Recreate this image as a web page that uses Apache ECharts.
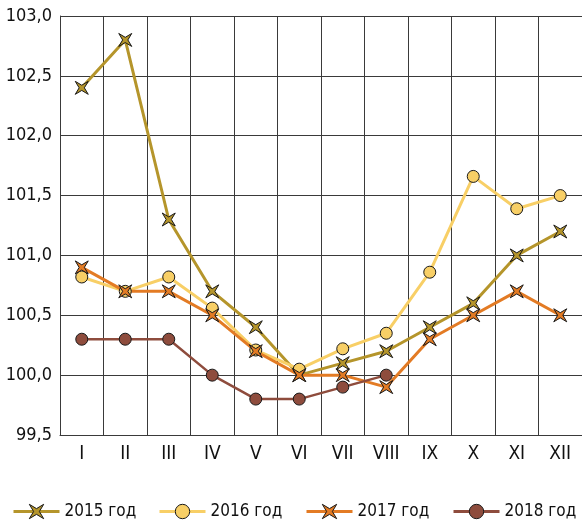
<!DOCTYPE html>
<html><head><meta charset="utf-8">
<script src="https://cdn.jsdelivr.net/npm/echarts@6/dist/echarts.min.js"></script>
<style>html,body{margin:0;padding:0;background:#fff}#c{width:582px;height:526px}</style>
</head><body><div id="c"></div>
<script>
var categories = ['I','II','III','IV','V','VI','VII','VIII','IX','X','XI','XII'];
var yTicks = [99.5, 100.0, 100.5, 101.0, 101.5, 102.0, 102.5, 103.0];
var seriesNames = ['2015 год','2016 год','2017 год','2018 год'];
var s2015 = [102.4, 102.8, 101.3, 100.7, 100.4, 100.0, 100.1, 100.2, 100.4, 100.6, 101.0, 101.2];
var s2016 = [100.82, 100.7, 100.82, 100.56, 100.21, 100.05, 100.22, 100.35, 100.86, 101.66, 101.39, 101.5];
var s2017 = [100.9, 100.7, 100.7, 100.5, 100.2, 100.0, 100.0, 99.9, 100.3, 100.5, 100.7, 100.5];
var s2018 = [100.3, 100.3, 100.3, 100.0, 99.8, 99.8, 99.9, 100.0, null, null, null, null];

var FONT = "'DejaVu Sans Condensed','Liberation Sans Narrow',sans-serif";
var star = 'path://M-10,-10 L0,-4 L10,-10 L4,0 L10,10 L0,4 L-10,10 L-4,0 Z';
var gridColor = '#3a3a3a';
var colors = ['#b5952b', '#f8cf66', '#e37b24', '#8e4c3d'];
var symbols = [star, 'circle', star, 'circle'];

function mk(i, data, size, width) {
  return {
    name: seriesNames[i], type: 'line', data: data, symbol: symbols[i], symbolSize: size,
    showAllSymbol: true, connectNulls: false,
    lineStyle: { color: colors[i], width: width },
    itemStyle: { color: colors[i], borderColor: '#1a1a1a', borderWidth: 1 },
    emphasis: { disabled: true }
  };
}
var legendLefts = [12, 158, 305, 452];
var legends = seriesNames.map(function (n, i) {
  return {
    top: 503, left: legendLefts[i], itemWidth: 46, itemHeight: 18, padding: 0,
    textStyle: { fontFamily: FONT, fontSize: 17, color: '#111' },
    itemStyle: { color: colors[i], borderColor: '#1a1a1a', borderWidth: 1 },
    lineStyle: { color: colors[i], width: 3 },
    data: [n]
  };
});

var chart = echarts.init(document.getElementById('c'), null, { renderer: 'canvas' });
chart.setOption({
  animation: false,
  backgroundColor: '#fff',
  grid: { left: 60, top: 16, width: 524, height: 419, containLabel: false },
  legend: legends,
  xAxis: {
    type: 'category', data: categories, boundaryGap: true,
    axisLine: { show: true, lineStyle: { color: gridColor, width: 1 } },
    axisTick: { show: false },
    splitLine: { show: true, interval: 0, lineStyle: { color: gridColor, width: 1 } },
    axisLabel: { interval: 0, margin: 10, fontFamily: FONT, fontSize: 19, color: '#111' }
  },
  yAxis: {
    type: 'value', min: yTicks[0], max: yTicks[yTicks.length-1], interval: 0.5,
    axisLine: { show: true, lineStyle: { color: gridColor, width: 1 } },
    axisTick: { show: false },
    splitLine: { show: true, lineStyle: { color: gridColor, width: 1 } },
    axisLabel: { margin: 8, fontFamily: FONT, fontSize: 18, color: '#111',
      formatter: function (v) { return v.toFixed(1).replace('.', ','); } }
  },
  series: [
    mk(0, s2015, 13, 3),
    mk(1, s2016, 12, 3),
    mk(2, s2017, 13, 3),
    mk(3, s2018, 12, 2.5)
  ]
});
</script></body></html>
